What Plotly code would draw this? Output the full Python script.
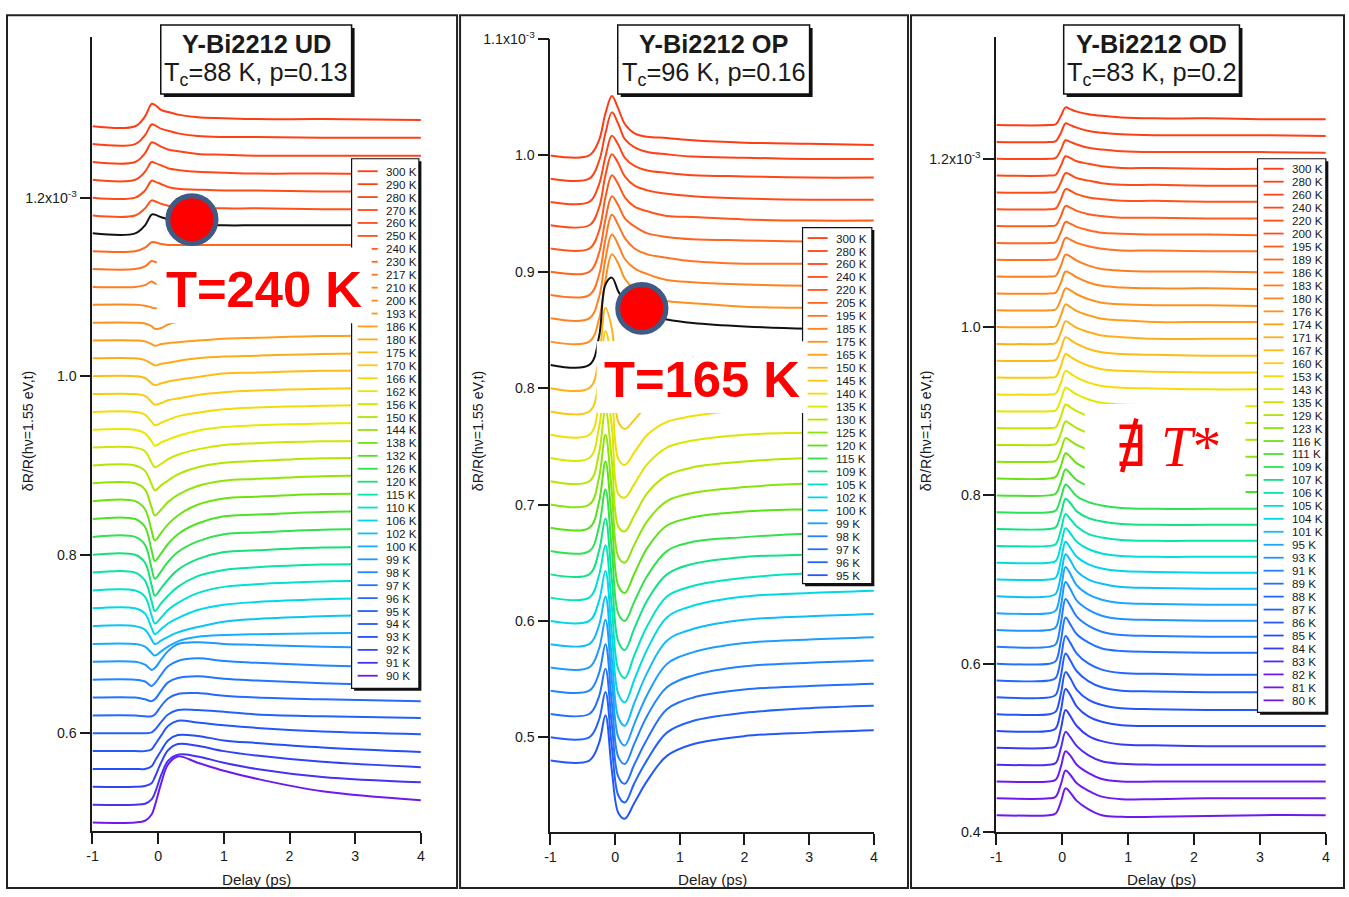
import plotly.graph_objects as go

W, H = 1349, 897
# The finished picture shows the page with an 8 px border and rescales it to
# W x H, so layout positions (given in picture pixels) are stretched to match.
PAD = 8
KX = (W + 2 * PAD) / W
KY = (H + 2 * PAD) / H
KF = (KX + KY) / 2          # font / length scale

# ---------------------------------------------------------------- data
# Traces are stored as signal values (units of 1e-6) at a set of delays (ps);
# each trace is shifted by its vertical offset (units of 1e-3).

DELAY_TICKS = [-1, 0, 1, 2, 3, 4]

UD_DELAY = [-1.0, -0.35, -0.2, -0.1, -0.05, 0.05, 0.15, 0.3, 0.6, 1.0, 1.5, 2.5, 4.0]
UD_TEMPS = [300, 290, 280, 270, 260, 250, 240, 230, 217, 210, 200, 193, 186, 180,
            175, 170, 166, 162, 156, 150, 144, 138, 132, 126, 120, 115, 110, 106,
            102, 100, 99, 98, 97, 96, 95, 94, 93, 92, 91, 90]
UD_OFFSET = [1.28, 1.26, 1.24, 1.22, 1.20, 1.18, 1.16, 1.14, 1.12, 1.10, 1.08, 1.06,
             1.04, 1.02, 1.00, 0.98, 0.96, 0.94, 0.92, 0.90, 0.88, 0.86, 0.84, 0.82,
             0.80, 0.78, 0.76, 0.74, 0.72, 0.70, 0.68, 0.66, 0.64, 0.62, 0.60, 0.58,
             0.56, 0.54, 0.52, 0.50]
UD_SIGNAL = [
    [0, 0, 11, 25, 24, 18, 16, 13, 10, 9, 8, 8, 7],
    [0, 0, 10, 22, 21, 17, 15, 12, 9, 8, 8, 7, 7],
    [0, 0, 10, 22, 21, 17, 14, 12, 9, 8, 7, 7, 7],
    [0, 0, 9, 20, 19, 16, 13, 11, 9, 8, 7, 7, 6],
    [0, 0, 8, 19, 18, 15, 12, 10, 9, 8, 8, 7, 7],
    [0, 0, 8, 17, 16, 13, 11, 10, 9, 8, 8, 7, 7],
    [0, 0, 9, 21, 21, 18, 16, 12, 10, 9, 9, 9, 9],
    [0, 0, 4, 10, 10, 8, 7, 7, 7, 7, 7, 7, 7],
    [0, 0, 3, 9, 8, 7, 6, 6, 6, 6, 6, 6, 6],
    [0, 0, 2, 6, 4, 2, 3, 4, 4, 4, 4, 4, 4],
    [0, 0, -1, -3, -4, -3, -1, 1, 3, 4, 4, 4, 4],
    [0, 0, -1, -4, -7, -6, -2, 1, 3, 4, 4, 4, 4],
    [0, 0, -1, -4, -6, -4, -3, -2, 0, 2, 3, 5, 6],
    [0, 0, -2, -6, -8, -6, -5, -3, 0, 2, 3, 5, 6],
    [0, 0, -2, -8, -10, -8, -6, -4, -1, 3, 4, 6, 7],
    [0, 0, -2, -9, -12, -10, -7, -5, -1, 2, 4, 6, 7],
    [0, 0, -3, -11, -15, -12, -9, -5, -1, 3, 5, 7, 8],
    [0, 0, -4, -13, -18, -14, -11, -7, -1, 3, 5, 7, 8],
    [0, 0, -4, -17, -22, -18, -13, -8, -2, 3, 5, 7, 8],
    [0, 0, -6, -21, -28, -22, -17, -10, -2, 3, 5, 8, 9],
    [0, 0, -7, -27, -36, -29, -21, -13, -3, 3, 5, 8, 9],
    [0, 0, -9, -33, -44, -35, -26, -16, -4, 3, 5, 8, 9],
    [0, 0, -9, -35, -47, -38, -28, -17, -5, 3, 5, 8, 9],
    [0, 0, -9, -35, -47, -38, -28, -17, -5, 3, 5, 8, 9],
    [0, 0, -9, -34, -46, -37, -28, -17, -5, 3, 5, 8, 9],
    [0, 0, -9, -32, -43, -34, -26, -16, -4, 3, 6, 9, 10],
    [0, 0, -7, -28, -37, -30, -22, -14, -3, 4, 7, 10, 11],
    [0, 0, -6, -22, -29, -23, -17, -11, -2, 4, 7, 10, 12],
    [0, 0, -4, -15, -20, -16, -12, -7, -1, 5, 8, 11, 13],
    [0, 0, -3, -10, -13, -8, -3, 3, 8, 10, 11, 12, 13],
    [0, 0, -3, -9, -7, 3, 12, 20, 22, 20, 19, 17, 15],
    [0, 0, -2, -7, -4, 6, 15, 21, 24, 21, 19, 16, 13],
    [0, 0, -2, -4, -2, 8, 17, 22, 24, 21, 19, 16, 13],
    [0, 0, -1, -1, 1, 11, 19, 24, 25, 22, 20, 18, 16],
    [0, 0, 0, 1, 4, 13, 21, 26, 26, 24, 21, 19, 17],
    [0, 0, 0, 2, 7, 18, 28, 34, 32, 29, 26, 22, 19],
    [0, 0, 0, 3, 9, 21, 32, 38, 37, 32, 29, 24, 19],
    [0, 0, 1, 4, 11, 28, 41, 48, 46, 40, 35, 28, 22],
    [0, 0, 1, 6, 13, 34, 49, 56, 54, 47, 40, 31, 25],
    [0, 0, 2, 9, 19, 45, 65, 74, 67, 58, 49, 35, 25],
]

OP_DELAY = [-1.0, -0.4, -0.25, -0.15, -0.05, 0.05, 0.15, 0.3, 0.5, 0.8, 1.2, 2.0, 3.0, 4.0]
OP_TEMPS = [300, 280, 260, 240, 220, 205, 195, 185, 175, 165, 150, 145, 140, 135,
            130, 125, 120, 115, 109, 105, 102, 100, 99, 98, 97, 96, 95]
OP_OFFSET = [1.00, 0.98, 0.96, 0.94, 0.92, 0.90, 0.88, 0.86, 0.84, 0.82, 0.80, 0.78,
             0.76, 0.74, 0.72, 0.70, 0.68, 0.66, 0.64, 0.62, 0.60, 0.58, 0.56, 0.54,
             0.52, 0.50, 0.48]
OP_SIGNAL = [
    [0, 0, 13, 36, 51, 40, 27, 19, 16, 15, 13, 11, 10, 9],
    [0, 0, 15, 39, 57, 47, 34, 27, 23, 21, 19, 18, 17, 17],
    [0, 0, 15, 39, 57, 49, 38, 31, 27, 25, 23, 22, 21, 21],
    [0, 0, 15, 43, 61, 53, 42, 34, 30, 27, 25, 23, 22, 22],
    [0, 0, 15, 44, 63, 55, 44, 36, 32, 28, 27, 25, 24, 24],
    [0, 0, 16, 45, 65, 57, 46, 39, 33, 30, 28, 27, 26, 26],
    [0, 0, 17, 48, 69, 60, 49, 40, 35, 32, 29, 27, 27, 27],
    [0, 0, 18, 51, 72, 63, 51, 43, 38, 33, 31, 29, 28, 28],
    [0, 0, 19, 53, 75, 67, 54, 45, 39, 35, 33, 30, 29, 29],
    [0, 0, 24, 69, 75, 63, 54, 47, 43, 39, 36, 33, 31, 30],
    [0, 0, 26, 69, 51, 4, -4, 2, 10, 17, 21, 23, 25, 26],
    [0, 0, 26, 69, 43, -9, -15, -7, 5, 14, 18, 21, 23, 24],
    [0, 0, 26, 67, 34, -21, -26, -15, 0, 11, 16, 21, 22, 24],
    [0, 0, 26, 64, 26, -31, -34, -22, -5, 9, 15, 20, 22, 24],
    [0, 0, 24, 62, 17, -39, -43, -29, -10, 5, 12, 17, 20, 21],
    [0, 0, 23, 60, 10, -45, -50, -34, -14, 3, 10, 15, 18, 19],
    [0, 0, 22, 57, 5, -50, -56, -39, -17, 2, 9, 14, 16, 17],
    [0, 0, 21, 53, 0, -54, -60, -43, -21, 0, 8, 12, 15, 15],
    [0, 0, 20, 48, -5, -58, -65, -46, -22, 0, 9, 15, 17, 19],
    [0, 0, 19, 45, -9, -62, -69, -49, -24, 1, 10, 17, 21, 22],
    [0, 0, 17, 43, -12, -63, -70, -50, -24, 3, 13, 21, 24, 26],
    [0, 0, 16, 41, -13, -63, -70, -50, -24, 3, 13, 21, 24, 26],
    [0, 0, 16, 41, -12, -60, -67, -48, -23, 3, 13, 21, 24, 26],
    [0, 0, 15, 40, -11, -57, -63, -45, -21, 3, 13, 21, 24, 26],
    [0, 0, 15, 39, -10, -54, -60, -43, -21, 4, 14, 21, 24, 26],
    [0, 0, 15, 39, -9, -50, -56, -39, -19, 4, 14, 21, 25, 27],
    [0, 0, 15, 39, -9, -45, -50, -36, -17, 4, 14, 21, 24, 26],
]

OD_DELAY = [-1.0, -0.2, -0.1, -0.02, 0.05, 0.12, 0.22, 0.4, 0.6, 0.9, 1.4, 2.2, 3.0, 4.0]
OD_TEMPS = [300, 280, 260, 240, 220, 200, 195, 189, 186, 183, 180, 176, 174, 171,
            167, 160, 153, 143, 135, 129, 123, 116, 111, 109, 107, 106, 105, 104,
            101, 95, 93, 91, 89, 88, 87, 86, 85, 84, 83, 82, 81, 80]
OD_OFFSET = [1.24, 1.22, 1.20, 1.18, 1.16, 1.14, 1.12, 1.10, 1.08, 1.06, 1.04, 1.02,
             1.00, 0.98, 0.96, 0.94, 0.92, 0.90, 0.88, 0.86, 0.84, 0.82, 0.80, 0.78,
             0.76, 0.74, 0.72, 0.70, 0.68, 0.66, 0.64, 0.62, 0.60, 0.58, 0.56, 0.54,
             0.52, 0.50, 0.48, 0.46, 0.44, 0.42]
OD_SIGNAL = [
    [0, 0, 1, 11, 21, 19, 16, 13, 11, 9, 8, 8, 7, 7],
    [0, 0, 1, 11, 22, 20, 17, 13, 11, 9, 8, 8, 8, 7],
    [0, 0, 1, 11, 22, 20, 17, 13, 11, 9, 8, 8, 8, 7],
    [0, 0, 1, 12, 23, 21, 17, 14, 11, 9, 9, 8, 8, 8],
    [0, 0, 1, 12, 23, 21, 17, 14, 11, 9, 9, 8, 8, 8],
    [0, 0, 1, 12, 24, 22, 18, 14, 12, 10, 10, 9, 9, 8],
    [0, 0, 1, 12, 24, 22, 18, 14, 12, 10, 10, 9, 9, 8],
    [0, 0, 1, 13, 25, 23, 19, 15, 12, 11, 10, 10, 9, 9],
    [0, 0, 1, 13, 26, 24, 20, 16, 13, 11, 11, 10, 10, 9],
    [0, 0, 1, 13, 26, 24, 19, 13, 9, 7, 6, 6, 5, 5],
    [0, 0, 1, 13, 26, 24, 19, 13, 9, 7, 6, 6, 5, 5],
    [0, 0, 1, 13, 26, 24, 19, 13, 9, 7, 6, 6, 5, 5],
    [0, 0, 1, 14, 27, 24, 19, 14, 10, 8, 6, 6, 6, 5],
    [0, 0, 1, 14, 27, 24, 19, 14, 10, 8, 6, 6, 6, 5],
    [0, 0, 1, 14, 28, 25, 20, 14, 10, 8, 7, 6, 6, 6],
    [0, 0, 1, 14, 28, 25, 20, 14, 10, 8, 7, 6, 6, 6],
    [0, 0, 1, 14, 28, 25, 20, 14, 10, 8, 7, 6, 6, 6],
    [0, 0, 1, 14, 28, 25, 20, 14, 10, 8, 7, 6, 6, 6],
    [0, 0, 1, 14, 28, 25, 20, 14, 10, 8, 7, 6, 6, 6],
    [0, 0, 1, 14, 28, 25, 20, 14, 10, 8, 7, 6, 6, 6],
    [0, 0, 1, 14, 28, 25, 20, 14, 10, 8, 7, 6, 6, 6],
    [0, 0, 2, 15, 30, 26, 18, 11, 7, 5, 4, 4, 4, 4],
    [0, 0, 2, 16, 31, 26, 18, 11, 7, 5, 4, 4, 4, 4],
    [0, 0, 2, 17, 33, 28, 19, 12, 8, 5, 4, 4, 4, 4],
    [0, 0, 2, 18, 36, 31, 21, 13, 9, 6, 5, 5, 5, 5],
    [0, 0, 2, 19, 38, 32, 23, 14, 10, 7, 6, 6, 6, 6],
    [0, 0, 2, 21, 41, 35, 25, 16, 11, 8, 7, 7, 7, 7],
    [0, 0, 2, 23, 45, 38, 27, 18, 13, 10, 9, 8, 8, 8],
    [0, 0, 3, 25, 50, 43, 30, 20, 15, 11, 10, 9, 9, 9],
    [0, 0, 3, 28, 55, 47, 33, 22, 16, 12, 11, 10, 10, 10],
    [0, 0, 3, 29, 57, 49, 35, 24, 17, 13, 12, 11, 11, 11],
    [0, 0, 3, 29, 57, 49, 36, 25, 18, 14, 13, 12, 12, 12],
    [0, 0, 3, 28, 55, 47, 35, 25, 18, 15, 14, 13, 13, 13],
    [0, 0, 3, 27, 53, 45, 32, 20, 13, 9, 8, 7, 7, 7],
    [0, 0, 3, 26, 52, 44, 31, 19, 12, 8, 7, 6, 6, 6],
    [0, 0, 3, 25, 50, 43, 29, 17, 11, 7, 6, 5, 5, 5],
    [0, 0, 3, 25, 50, 43, 29, 17, 11, 7, 6, 6, 6, 6],
    [0, 0, 2, 23, 45, 38, 26, 14, 8, 4, 3, 2, 2, 2],
    [0, 0, 2, 20, 39, 33, 22, 11, 4, 1, 0, 0, 0, 0],
    [0, 0, 2, 18, 36, 31, 20, 10, 3, 0, 0, 0, 0, 0],
    [0, 0, 2, 17, 33, 28, 18, 9, 2, -1, -1, 0, 0, 0],
    [0, 0, 2, 16, 32, 27, 17, 7, 0, -2, -2, -1, 0, 0],
]

UD_YTICKS = [0.6, 0.8, 1.0, 1.2]
UD_YLABELS = ["0.6", "0.8", "1.0", "1.2x10<sup>-3</sup>"]
OP_YTICKS = [0.5, 0.6, 0.7, 0.8, 0.9, 1.0, 1.1]
OP_YLABELS = ["0.5", "0.6", "0.7", "0.8", "0.9", "1.0", "1.1x10<sup>-3</sup>"]
OD_YTICKS = [0.4, 0.6, 0.8, 1.0, 1.2]
OD_YLABELS = ["0.4", "0.6", "0.8", "1.0", "1.2x10<sup>-3</sup>"]

TITLES = ["Y-Bi2212 UD", "Y-Bi2212 OP", "Y-Bi2212 OD"]
SUBTITLES = ["T<sub>c</sub>=88 K, p=0.13", "T<sub>c</sub>=96 K, p=0.16",
             "T<sub>c</sub>=83 K, p=0.2"]
Y_TITLE = "δR/R(hν=1.55 eV,t)"
X_TITLE = "Delay (ps)"

# ---------------------------------------------------------------- styling
SANS = "Liberation Sans, Arial, Helvetica, sans-serif"
SERIF = "Liberation Serif, DejaVu Serif, serif"
INK = "#1a1a1a"

COLOR_STOPS = [
    (0.00, (255, 60, 20)),
    (0.12, (255, 78, 24)),
    (0.20, (255, 112, 34)),
    (0.30, (255, 152, 30)),
    (0.37, (255, 192, 20)),
    (0.43, (238, 232, 0)),
    (0.49, (175, 230, 0)),
    (0.55, (95, 225, 20)),
    (0.61, (25, 225, 110)),
    (0.66, (0, 228, 200)),
    (0.70, (0, 212, 240)),
    (0.75, (30, 165, 255)),
    (0.82, (35, 115, 255)),
    (0.92, (35, 80, 250)),
    (0.97, (60, 55, 245)),
    (1.00, (110, 25, 240)),
]


def ramp(f):
    f = max(0.0, min(1.0, f))
    for (f0, c0), (f1, c1) in zip(COLOR_STOPS[:-1], COLOR_STOPS[1:]):
        if f <= f1:
            t = (f - f0) / (f1 - f0)
            r, g, b = (round(a + (z - a) * t) for a, z in zip(c0, c1))
            return f"rgb({r},{g},{b})"
    r, g, b = COLOR_STOPS[-1][1]
    return f"rgb({r},{g},{b})"


def page_x(px, clamp=False):
    v = px * KX - PAD
    return min(max(v, 1.0), W - 1.0) if clamp else v


def page_y(py, clamp=False):
    v = py * KY - PAD
    return min(max(v, 1.0), H - 1.0) if clamp else v


def xp(px, clamp=False):
    return page_x(px, clamp) / W


def yp(py, clamp=False):
    return 1 - page_y(py, clamp) / H


PANELS = [
    dict(delay=UD_DELAY, temps=UD_TEMPS, offset=UD_OFFSET, signal=UD_SIGNAL,
         yticks=UD_YTICKS, ylabels=UD_YLABELS, mark=240, span=1.0,
         xdom=(94, 421), ydom=(35, 831), yrange=(0.4905, 1.3799),
         frame=(8, 13, 457, 895), title_box=(162, 23, 352, 92),
         legend_box=(352, 157, 419, 688), legend_row0=169.5, legend_step=12.97,
         legend_line=(358, 378), legend_text=384, ytitle_x=30),
    dict(delay=OP_DELAY, temps=OP_TEMPS, offset=OP_OFFSET, signal=OP_SIGNAL,
         yticks=OP_YTICKS, ylabels=OP_YLABELS, mark=165, span=0.9,
         xdom=(550, 872), ydom=(37, 832), yrange=(0.4186, 1.1),
         frame=(460, 13, 906, 895), title_box=(617, 23, 808, 92),
         legend_box=(801, 226, 870, 583), legend_row0=236.5, legend_step=13.0,
         legend_line=(806, 826), legend_text=832, ytitle_x=478),
    dict(delay=OD_DELAY, temps=OD_TEMPS, offset=OD_OFFSET, signal=OD_SIGNAL,
         yticks=OD_YTICKS, ylabels=OD_YLABELS, mark=None, span=1.06,
         xdom=(994, 1322), ydom=(35, 832), yrange=(0.4, 1.3446),
         frame=(909, 13, 1346, 895), title_box=(1061, 23, 1236, 92),
         legend_box=(1254, 157, 1322, 712), legend_row0=167, legend_step=13.0,
         legend_line=(1260, 1280), legend_text=1286, ytitle_x=924),
]

fig = go.Figure()
shapes = []
annotations = []


def rect(x0, y0, x1, y1, fill="rgba(0,0,0,0)", line="rgba(0,0,0,0)", width=0,
         clamp=False):
    shapes.append(dict(type="rect", xref="paper", yref="paper", layer="above",
                       x0=xp(x0, clamp), x1=xp(x1, clamp),
                       y0=yp(y1, clamp), y1=yp(y0, clamp),
                       fillcolor=fill, line=dict(color=line, width=width)))


def seg(x0, y0, x1, y1, color, width):
    shapes.append(dict(type="line", xref="paper", yref="paper", layer="above",
                       x0=xp(x0), x1=xp(x1), y0=yp(y0), y1=yp(y1),
                       line=dict(color=color, width=width)))


def label(x, y, text, size, color=INK, xanchor="center", family=SANS, angle=0):
    annotations.append(dict(xref="paper", yref="paper", x=xp(x), y=yp(y), text=text,
                            showarrow=False, xanchor=xanchor, yanchor="middle",
                            textangle=angle,
                            font=dict(family=family, size=size * KF, color=color)))


axis_style = dict(showline=True, linecolor=INK, linewidth=1.5, ticks="outside",
                  ticklen=11 * KF, tickwidth=1.5, tickcolor=INK, showgrid=False,
                  zeroline=False, fixedrange=True,
                  tickfont=dict(family=SANS, size=14 * KF, color=INK))

layout_axes = {}
for k, p in enumerate(PANELS):
    suffix = "" if k == 0 else str(k + 1)
    n = len(p["temps"])
    last = None
    for i, (temp, off, sig) in enumerate(zip(p["temps"], p["offset"], p["signal"])):
        color = ramp(i / (n - 1) * p["span"])
        p.setdefault("colors", []).append(color)
        ys = [off + v / 1000.0 for v in sig]
        highlighted = temp == p["mark"]
        tr = go.Scatter(x=p["delay"], y=ys, mode="lines", showlegend=False,
                        hoverinfo="skip", xaxis="x" + suffix, yaxis="y" + suffix,
                        line=dict(color="#111111" if highlighted else color, width=2,
                                  shape="spline", smoothing=1.0))
        if highlighted:
            last = tr
        else:
            fig.add_trace(tr)
    if last is not None:
        fig.add_trace(last)

    layout_axes["xaxis" + suffix] = dict(
        axis_style, domain=[xp(p["xdom"][0]), xp(p["xdom"][1])], range=[-1, 4],
        tickvals=DELAY_TICKS, ticktext=[str(t) for t in DELAY_TICKS],
        anchor="y" + suffix)
    layout_axes["yaxis" + suffix] = dict(
        axis_style, domain=[yp(p["ydom"][1]), yp(p["ydom"][0])], range=list(p["yrange"]),
        tickvals=p["yticks"], ticktext=p["ylabels"], anchor="x" + suffix)

# panel frames
for p in PANELS:
    x0, y0, x1, y1 = p["frame"]
    rect(x0, y0, x1, y1, line="#222222", width=2, clamp=True)

# legends drawn by hand so the rows stay as tight as in the figure
for p in PANELS:
    bx0, by0, bx1, by1 = p["legend_box"]
    rect(bx0 + 2.5, by0 + 2.5, bx1 + 2.5, by1 + 2.5, fill="#111111")
    rect(bx0, by0, bx1, by1, fill="white", line="#111111", width=1.2)
    lx0, lx1 = p["legend_line"]
    for i, (temp, color) in enumerate(zip(p["temps"], p["colors"])):
        ry = p["legend_row0"] + i * p["legend_step"]
        seg(lx0, ry, lx1, ry, color, 1.8)
        label(p["legend_text"], ry, f"{temp} K", 11.5, xanchor="left")

# title boxes
for p, title, sub in zip(PANELS, TITLES, SUBTITLES):
    tx0, ty0, tx1, ty1 = p["title_box"]
    rect(tx0 + 3, ty0 + 3, tx1 + 3, ty1 + 3, fill="#111111")
    rect(tx0, ty0, tx1, ty1, fill="white", line="#111111", width=1.5)
    cx = (tx0 + tx1) / 2
    label(cx, 42, f"<b>{title}</b>", 25)
    label(cx, 72, sub, 25)

# axis titles
for p in PANELS:
    cx = (p["xdom"][0] + p["xdom"][1]) / 2
    label(cx, 880, X_TITLE, 15)
    label(p["ytitle_x"], 430, Y_TITLE, 14, angle=-90)

# highlighted crossover temperatures
rect(158, 246, 372, 322, fill="white")
rect(596, 340, 804, 412, fill="white")
rect(1082, 403, 1242, 498, fill="white")
for cx, cy in [(193, 218), (641, 307)]:
    shapes.append(dict(type="circle", xref="paper", yref="paper", layer="above",
                       x0=xp(cx - 24), x1=xp(cx + 24), y0=yp(cy + 24), y1=yp(cy - 24),
                       fillcolor="#FF0000", line=dict(color="#3F5A85", width=5)))
label(265, 288, "<b>T=240 K</b>", 50, color="#FF0000")
label(701, 378, "<b>T=165 K</b>", 50, color="#FF0000")
label(1165, 445, "∄\u00a0<i>T</i>*", 56, color="#FF0000", family=SERIF)

fig.update_layout(
    width=W, height=H, margin=dict(l=0, r=0, t=0, b=0),
    paper_bgcolor="white", plot_bgcolor="rgba(0,0,0,0)",
    shapes=shapes, annotations=annotations, **layout_axes,
)

fig.write_html("out.html")
